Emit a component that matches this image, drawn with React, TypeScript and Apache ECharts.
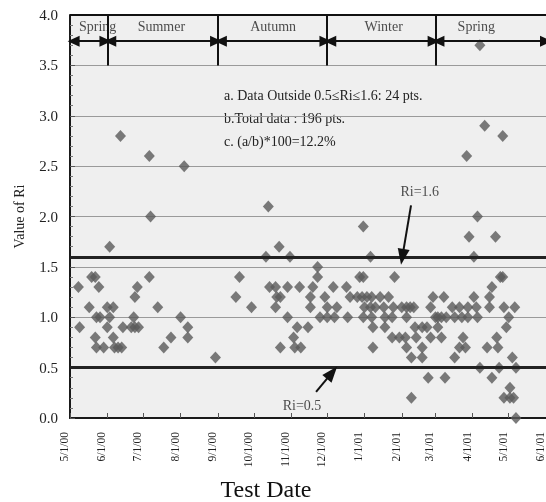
import React, { useEffect, useRef } from 'react';
import * as echarts from 'echarts';

const START_DATE = '2000-05-01';
const tickDates = ['2000-05-01','2000-06-01','2000-07-01','2000-08-01','2000-09-01','2000-10-01','2000-11-01','2000-12-01','2001-01-01','2001-02-01','2001-03-01','2001-04-01','2001-05-01','2001-06-01'];
const tickLabels = ['5/1/00','6/1/00','7/1/00','8/1/00','9/1/00','10/1/00','11/1/00','12/1/00','1/1/01','2/1/01','3/1/01','4/1/01','5/1/01','6/1/01'];

// Test day, counted in days after 5/1/00, and measured Ri
const testDay = [
  7,8,16,18,21,24,25,22,21,22,28,31,36,33,31,36,37,43,40,33,42,44,51,54,57,53,54,56,66,66,67,73,78,84,92,95,98,98,121,
  138,141,151,163,165,166,171,172,175,171,174,175,181,181,183,186,187,189,191,192,198,200,200,202,206,206,208,212,214,214,
  219,220,222,230,231,233,239,241,244,243,244,244,245,247,250,250,251,251,252,252,254,258,261,262,262,265,268,268,270,269,
  274,276,279,280,280,280,283,284,284,286,287,288,293,293,293,297,298,300,300,302,304,
  306,306,309,309,311,312,313,318,320,320,324,324,326,327,329,330,331,331,332,336,338,336,339,339,341,341,345,347,349,349,
  351,351,354,355,356,357,358,360,360,361,361,363,365,366,366,368,369,370,371,371
];
const riValue = [
  1.3,0.9,1.1,1.4,1.4,1.3,1.0,1.0,0.8,0.7,0.7,1.1,1.1,1.0,0.9,0.8,0.7,0.7,0.7,1.7,2.8,0.9,0.9,0.9,0.9,1.0,1.2,1.3,1.4,2.6,2.0,1.1,0.7,0.8,1.0,2.5,0.9,0.8,0.6,
  1.2,1.4,1.1,1.6,2.1,1.3,1.3,1.2,1.2,1.1,1.7,0.7,1.3,1.0,1.6,0.8,0.7,0.9,1.3,0.7,0.9,1.2,1.1,1.3,1.5,1.4,1.0,1.2,1.1,1.0,
  1.3,1.0,1.1,1.3,1.0,1.2,1.2,1.4,1.4,1.2,1.9,1.0,1.1,1.2,1.1,1.6,1.2,1.0,0.7,0.9,1.1,1.2,1.1,0.9,1.0,1.2,1.0,0.8,1.4,1.1,
  0.8,1.1,0.8,1.0,1.1,0.7,1.1,0.6,0.2,1.1,0.9,0.8,0.9,0.7,0.6,0.9,0.4,0.8,1.1,1.2,1.0,
  0.9,1.0,0.8,1.0,1.2,0.4,1.0,1.1,1.0,0.6,0.7,1.1,1.0,0.8,0.7,2.6,1.1,1.0,1.8,1.6,1.1,1.2,2.0,1.0,0.5,3.7,2.9,0.7,1.2,1.1,
  1.3,0.4,1.8,0.8,0.7,0.5,1.4,1.4,2.8,1.1,0.2,0.9,1.0,0.3,0.2,0.6,0.2,1.1,0.5,0.0
];

const seasonNames = ['Spring','Summer','Autumn','Winter','Spring'];
const seasonBounds = ['2000-05-01','2000-06-01','2000-09-01','2000-12-01','2001-03-01','2001-06-01'];
const seasonLabelDates = ['2000-05-24','2000-07-16','2000-10-17','2001-01-17','2001-04-04'];

const limitUpper = 1.6;
const limitLower = 0.5;
const notes = ['a. Data Outside 0.5\u2264Ri\u22641.6: 24 pts.', 'b.Total data : 196 pts.', 'c. (a/b)*100=12.2%'];

const DAY = 86400000;
const toDay = (d: string) => (Date.parse(d) - Date.parse(START_DATE)) / DAY;

const FONT = '"Liberation Serif", "Times New Roman", serif';

export default function App() {
  const ref = useRef<HTMLDivElement>(null);
  useEffect(() => {
    if (!ref.current) return;
    const chart = echarts.init(ref.current, null, { renderer: 'svg' });
    const tickDays = tickDates.map(toDay);
    const bounds = seasonBounds.map(toDay);
    const maxDay = tickDays[tickDays.length - 1];
    const arrowY = 3.74;
    const labelY = 3.89;
    const points = testDay.map((d, i) => [d, riValue[i]]);

    const seasonArrows = seasonNames.map((_, i) => [
      { coord: [bounds[i] + (i === 0 ? 3 : 2.5), arrowY] },
      { coord: [bounds[i + 1] - (i === seasonNames.length - 1 ? 0 : 1.5), arrowY] },
    ]);
    const dividers = bounds.slice(1, -1).map((b) => [
      { coord: [b, 3.5] },
      { coord: [b, 4.0] },
    ]);

    chart.setOption({
      animation: false,
      grid: { left: 70, right: 0, top: 15, bottom: 84, show: true, backgroundColor: '#efefef', borderWidth: 0 },
      xAxis: {
        type: 'value', min: 0, max: maxDay,
        axisLine: { show: true, onZero: false, lineStyle: { color: '#1a1a1a', width: 2 } },
        axisTick: { show: true, inside: true, length: 5, customValues: tickDays, lineStyle: { color: '#555' } },
        axisLabel: {
          customValues: tickDays, rotate: 90, margin: 14,
          formatter: (v: number) => { const i = tickDays.indexOf(v); return i >= 0 ? tickLabels[i] : ''; },
          fontFamily: FONT, fontSize: 11.5, color: '#222', verticalAlign: 'bottom', lineHeight: 12,
        },
        splitLine: { show: false },
      },
      yAxis: {
        type: 'value', min: 0, max: 4, interval: 0.5,
        name: 'Value of Ri', nameLocation: 'middle', nameGap: 44,
        nameTextStyle: { fontFamily: FONT, fontSize: 14, color: '#222' },
        axisLine: { show: true, lineStyle: { color: '#1a1a1a', width: 2 } },
        axisTick: { show: true, inside: true, length: 5, lineStyle: { color: '#555' } },
        minorTick: { show: true, splitNumber: 5, length: 3, lineStyle: { color: '#777' } },
        axisLabel: { formatter: (v: number) => v.toFixed(1), fontFamily: FONT, fontSize: 15, color: '#222', margin: 12 },
        splitLine: { show: true, lineStyle: { color: '#9a9a9a', width: 1 } },
      },
      graphic: [
        ...notes.map((t, i) => ({
          type: 'text', x: 224, y: 95 + i * 23,
          style: { text: t, font: `14px ${FONT}`, fill: '#222', verticalAlign: 'middle' },
        })),
        {
          type: 'text', x: 266, y: 489,
          style: { text: 'Test Date', font: `24px ${FONT}`, fill: '#111', align: 'center', verticalAlign: 'middle' },
        },
      ],
      series: [
        {
          type: 'scatter', name: 'Ri', data: points, symbol: 'diamond', symbolSize: [11, 12],
          itemStyle: { color: '#5a5a5a' }, z: 3,
        },
        {
          type: 'scatter', data: [], silent: true,
          markLine: {
            silent: true, symbol: 'none', label: { show: false }, z: 4,
            data: [
              { yAxis: limitUpper, lineStyle: { color: '#222', width: 3, type: 'solid' } },
              { yAxis: limitLower, lineStyle: { color: '#222', width: 3, type: 'solid' } },
              { yAxis: 4.0, lineStyle: { color: '#111', width: 2, type: 'solid' } },
            ],
          },
        },
        {
          type: 'scatter', data: [], silent: true,
          markLine: {
            silent: true, symbol: 'none', label: { show: false },
            lineStyle: { color: '#111', width: 2, type: 'solid' },
            data: dividers,
          },
        },
        {
          type: 'scatter', data: [], silent: true,
          markLine: {
            silent: true, symbol: ['triangle', 'triangle'], symbolSize: [11, 12], label: { show: false },
            lineStyle: { color: '#111', width: 2, type: 'solid' },
            itemStyle: { color: '#111' },
            data: seasonArrows,
          },
        },
        {
          type: 'scatter', data: [], silent: true,
          markLine: {
            silent: true, symbol: ['none', 'triangle'], symbolSize: [12, 16], label: { show: false },
            lineStyle: { color: '#111', width: 2, type: 'solid' },
            itemStyle: { color: '#111' },
            data: [
              [{ coord: [283.7, 2.11] }, { coord: [276.5, limitUpper] }],
              [{ coord: [204.7, 0.26] }, { coord: [218, 0.45] }],
            ],
          },
        },
        {
          type: 'scatter', silent: true, symbolSize: 0,
          data: [
            ...seasonNames.map((n, i) => ({ value: [toDay(seasonLabelDates[i]), labelY], name: n })),
            { value: [291, 2.25], name: 'Ri=1.6' },
            { value: [193, 0.12], name: 'Ri=0.5' },
          ],
          label: {
            show: true, position: 'inside', formatter: (p: any) => p.name,
            fontFamily: FONT, fontSize: 14, color: '#222',
          },
        },
      ],
    });
    return () => chart.dispose();
  }, []);
  return <div ref={ref} style={{ position: 'fixed', left: 0, top: 0, width: 546, height: 502 }} />;
}
